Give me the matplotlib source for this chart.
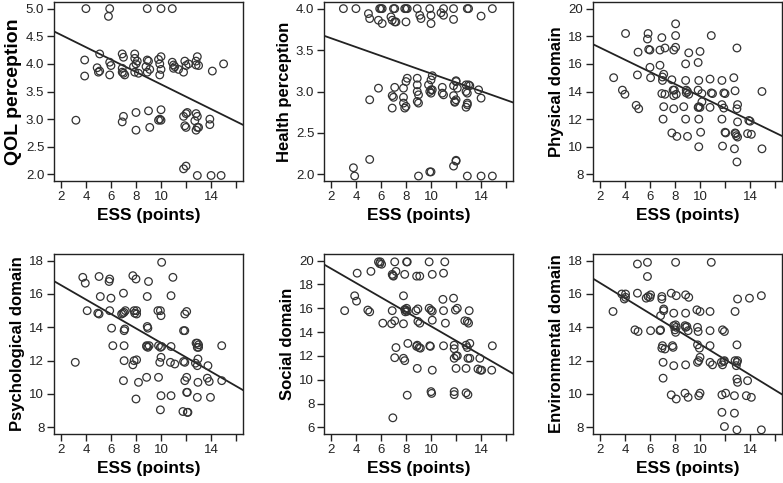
import numpy as np
import matplotlib
matplotlib.use("Agg")
import matplotlib.pyplot as plt

plt.rcParams['font.family'] = ['Liberation Sans', 'DejaVu Sans']

# --- data ---
qol = [(4.0, 5.0), (5.9, 5.0), (5.8, 4.86), (8.9, 5.0), (10.0, 5.0), (10.9, 5.0),
       (3.9, 4.07), (3.9, 3.78), (4.9, 3.93), (5.1, 4.18), (5.1, 3.87), (5.0, 3.85),
       (5.9, 4.03), (6.0, 3.97), (5.9, 3.80), (6.9, 4.18), (7.0, 4.12), (6.9, 3.92),
       (6.9, 3.85), (7.1, 3.80), (7.0, 3.83), (7.9, 4.18), (7.9, 4.10), (8.1, 4.05),
       (8.0, 4.0), (7.8, 3.95), (7.9, 3.85), (8.2, 3.83), (8.9, 4.07), (9.0, 4.05),
       (8.8, 3.95), (9.1, 3.90), (8.9, 3.85), (9.8, 4.08), (10.0, 4.13), (9.9, 4.0),
       (10.0, 3.90), (9.9, 3.80), (10.9, 4.03), (11.0, 3.98), (11.1, 3.95), (11.0, 3.92),
       (11.4, 3.90), (11.9, 4.05), (12.2, 4.0), (12.0, 3.97), (11.8, 3.85), (12.9, 4.13),
       (12.8, 4.05), (12.8, 3.98), (13.0, 3.97), (14.1, 3.87), (15.0, 4.0),
       (3.2, 2.98), (7.0, 3.05), (6.9, 2.95), (8.0, 3.12), (8.0, 2.80), (9.0, 3.15),
       (9.1, 2.85), (9.8, 2.98), (9.9, 3.0), (10.0, 2.98), (10.0, 3.17), (11.8, 3.05),
       (12.0, 3.10), (12.1, 3.12), (11.9, 2.88), (12.0, 2.85), (12.8, 3.10), (12.9, 3.05),
       (12.7, 2.97), (12.9, 2.85), (12.8, 2.80), (13.0, 2.85), (13.9, 3.0), (13.9, 2.90),
       (11.8, 2.10), (12.0, 2.15), (12.9, 1.98), (14.0, 1.98), (14.8, 1.98)]

health = [(3.0, 4.0), (4.0, 4.0), (5.9, 4.0), (6.0, 4.0), (6.1, 4.0), (7.0, 4.0),
          (7.1, 4.0), (7.9, 4.0), (8.0, 4.0), (8.1, 4.0), (8.9, 4.0), (9.9, 4.0),
          (11.0, 4.0), (11.8, 4.0), (12.9, 4.0), (13.0, 4.0), (14.9, 4.0),
          (5.0, 3.94), (5.1, 3.88), (5.8, 3.86), (6.1, 3.82), (6.8, 3.9), (6.9, 3.86),
          (7.1, 3.84), (7.2, 3.84), (8.0, 3.84), (9.1, 3.92), (9.2, 3.88), (10.0, 3.92),
          (10.0, 3.82), (10.8, 3.95), (11.0, 3.92), (11.8, 3.87), (14.0, 3.91),
          (5.1, 2.9), (5.8, 3.04), (6.9, 2.95), (7.0, 2.93), (6.9, 2.8), (7.1, 3.05),
          (7.8, 3.04), (7.8, 2.93), (7.8, 2.86), (7.9, 2.8), (8.0, 2.82), (8.0, 3.12),
          (8.1, 3.16), (8.9, 3.16), (8.9, 3.08), (8.9, 3.0), (9.0, 2.96), (8.9, 2.88),
          (9.0, 2.86), (9.8, 3.08), (9.9, 3.0), (10.0, 3.02), (10.0, 2.98), (10.0, 3.14),
          (10.1, 3.19), (10.1, 3.02), (10.9, 3.05), (10.9, 2.98), (11.0, 2.96), (11.8, 3.07),
          (11.8, 2.95), (11.9, 2.88), (11.9, 2.87), (12.0, 3.13), (12.0, 3.12), (12.0, 2.9),
          (12.1, 3.04), (12.8, 3.08), (12.8, 3.0), (12.9, 2.98), (12.9, 2.86), (12.8, 2.81),
          (12.9, 2.84), (13.0, 3.08), (13.1, 3.07), (13.8, 3.02), (14.0, 2.92),
          (3.8, 2.08), (3.9, 1.98), (5.1, 2.18), (9.0, 1.98), (9.9, 2.03), (10.0, 2.03),
          (11.8, 2.1), (12.0, 2.16), (12.0, 2.17), (12.9, 1.98), (14.0, 1.98), (14.9, 1.98)]

physical = [(3.1, 15.0), (3.8, 14.1), (4.0, 13.8), (4.05, 18.2), (4.9, 13.0), (5.1, 12.75),
            (5.0, 15.2), (5.05, 16.85), (5.85, 18.2), (5.8, 17.8), (5.9, 17.05), (6.0, 17.0),
            (6.0, 15.75), (6.05, 15.0), (6.8, 17.0), (6.95, 17.9), (7.2, 17.15), (6.8, 15.9),
            (7.0, 15.05), (7.0, 14.8), (7.1, 15.25), (6.95, 13.85), (7.2, 13.8), (7.1, 12.9),
            (7.05, 12.0), (7.75, 14.85), (7.85, 14.1), (7.95, 14.1), (8.1, 13.8), (7.9, 13.7),
            (8.05, 18.9), (8.05, 18.05), (8.05, 17.2), (7.9, 17.0), (7.9, 12.75), (7.75, 11.0),
            (8.15, 10.75), (8.85, 16.0), (9.1, 16.8), (8.85, 14.8), (8.9, 14.1), (9.0, 14.0),
            (8.9, 13.9), (9.1, 13.8), (8.7, 12.9), (8.85, 12.0), (9.0, 10.75), (9.85, 16.1),
            (10.0, 16.9), (9.9, 14.8), (9.85, 14.1), (10.15, 13.85), (9.9, 12.9), (10.0, 12.85),
            (9.85, 12.85), (10.15, 13.25), (9.9, 12.0), (10.05, 11.05), (9.9, 10.0),
            (10.8, 14.9), (10.9, 18.05), (10.9, 13.9), (11.0, 13.85), (10.8, 12.85),
            (11.75, 14.8), (11.9, 13.9), (12.0, 13.85), (11.75, 13.05), (11.9, 12.8),
            (11.75, 12.0), (12.0, 11.05), (12.05, 11.0), (11.8, 10.05), (12.7, 15.0),
            (12.8, 14.05), (12.95, 17.15), (13.0, 13.05), (12.95, 12.75), (13.0, 11.8),
            (12.8, 11.0), (12.9, 10.8), (12.85, 10.95), (13.0, 10.7), (12.75, 9.85),
            (12.95, 8.9), (13.9, 11.9), (14.0, 11.85), (13.8, 10.95), (14.1, 10.9),
            (14.95, 14.0), (14.95, 9.85)]

psych = [(3.75, 17.0), (3.95, 16.65), (5.05, 17.05), (5.15, 15.85), (4.1, 15.0), (4.95, 14.85),
         (5.05, 14.8), (5.9, 16.9), (5.85, 16.75), (6.0, 15.75), (5.9, 15.0), (6.05, 13.95),
         (6.15, 12.9), (3.15, 11.9), (7.0, 16.05), (6.85, 14.8), (6.95, 14.85), (7.05, 14.9),
         (7.15, 15.0), (7.05, 13.8), (7.1, 13.9), (7.05, 12.9), (7.05, 12.0), (7.0, 10.8),
         (7.75, 17.1), (8.0, 16.9), (7.85, 15.0), (8.05, 15.0), (7.9, 14.85), (8.05, 14.8),
         (7.85, 12.0), (7.75, 11.75), (8.05, 12.05), (8.2, 10.7), (8.0, 9.7), (9.0, 16.75),
         (8.9, 15.85), (8.9, 14.05), (8.95, 13.95), (8.85, 12.9), (8.95, 12.8), (9.05, 12.9),
         (8.85, 12.85), (8.85, 11.0), (9.75, 15.0), (9.95, 15.0), (10.0, 14.7), (10.05, 17.9),
         (9.8, 12.9), (9.95, 12.8), (10.05, 12.85), (10.0, 12.2), (9.9, 11.9), (10.0, 9.9),
         (9.95, 9.05), (9.8, 11.0), (10.95, 17.0), (10.8, 15.9), (10.8, 12.85), (10.75, 11.9),
         (11.1, 11.8), (10.8, 9.9), (11.8, 13.8), (11.9, 13.8), (11.9, 14.8), (12.05, 14.95),
         (11.8, 11.95), (11.9, 11.9), (12.05, 11.0), (11.9, 10.8), (12.05, 10.1), (12.1, 10.1),
         (11.75, 8.95), (12.1, 8.9), (12.15, 8.9), (12.9, 13.05), (13.0, 12.95), (13.0, 12.8),
         (12.9, 12.8), (12.8, 13.05), (12.95, 12.1), (12.9, 11.7), (12.95, 10.7), (12.9, 9.8),
         (12.75, 11.85), (13.75, 11.7), (13.7, 10.95), (13.85, 10.75), (13.95, 9.8),
         (14.85, 12.9), (14.85, 10.8)]

social = [(3.1, 15.8), (3.9, 17.05), (4.05, 16.6), (4.1, 18.95), (4.95, 15.85), (5.1, 15.7),
          (5.2, 19.1), (5.8, 19.9), (5.95, 19.9), (6.05, 19.7), (5.9, 19.75), (6.15, 14.75),
          (6.9, 18.85), (7.0, 18.7), (6.95, 18.75), (7.1, 19.9), (7.2, 19.1), (6.9, 15.8),
          (7.1, 14.95), (6.85, 14.7), (7.2, 12.7), (7.1, 11.85), (6.95, 6.8), (7.8, 17.05),
          (7.9, 18.85), (8.05, 19.9), (8.1, 19.9), (7.8, 14.7), (7.9, 15.9), (8.0, 15.85),
          (8.1, 15.75), (7.95, 15.7), (8.05, 16.0), (7.8, 11.8), (7.9, 11.6), (8.15, 13.05),
          (8.1, 8.7), (8.85, 18.7), (9.1, 18.7), (8.95, 15.95), (8.8, 15.8), (8.95, 14.9),
          (9.1, 14.75), (8.9, 12.9), (9.05, 12.7), (9.15, 12.65), (8.85, 12.8), (8.9, 10.95),
          (9.85, 19.9), (10.1, 18.85), (9.85, 16.0), (10.0, 15.85), (10.1, 15.75), (10.1, 15.0),
          (9.9, 12.85), (9.95, 12.8), (10.1, 10.8), (10.0, 9.0), (10.05, 8.85), (11.0, 18.95),
          (11.1, 19.9), (10.95, 16.75), (11.0, 15.8), (11.15, 14.75), (11.0, 12.85),
          (11.8, 16.85), (11.85, 12.9), (11.85, 12.6), (11.85, 11.8), (12.0, 12.0), (12.1, 12.0),
          (12.0, 10.95), (11.95, 15.85), (12.1, 16.0), (11.85, 9.0), (11.85, 8.75),
          (12.7, 14.95), (12.9, 14.9), (13.0, 14.75), (13.05, 15.8), (13.1, 13.05),
          (12.8, 12.9), (12.9, 12.7), (12.95, 11.8), (13.1, 11.8), (12.8, 10.95),
          (12.8, 8.9), (12.95, 8.75), (13.9, 11.8), (13.75, 10.9), (13.95, 10.8), (14.05, 10.8),
          (14.85, 10.8), (14.9, 12.85)]

environ = [(3.05, 14.95), (3.75, 16.0), (4.05, 16.0), (3.95, 15.7), (4.05, 15.8), (5.0, 16.05),
           (5.0, 17.8), (5.8, 17.9), (5.8, 17.05), (5.7, 15.75), (6.0, 15.8), (6.05, 15.95),
           (5.85, 15.85), (4.8, 13.85), (5.05, 13.75), (6.05, 13.8), (6.95, 15.85), (6.95, 15.7),
           (7.1, 15.1), (7.1, 15.0), (6.85, 14.7), (6.8, 13.8), (6.85, 13.85), (7.0, 12.9),
           (7.2, 12.7), (6.95, 12.75), (7.05, 11.9), (7.05, 10.95), (7.7, 16.05), (8.05, 17.9),
           (8.1, 15.9), (7.9, 14.85), (7.8, 12.9), (7.85, 12.8), (7.9, 14.1), (8.05, 14.15),
           (8.1, 14.0), (8.0, 13.85), (8.05, 13.7), (7.9, 11.7), (7.7, 9.95), (8.1, 9.7),
           (8.85, 15.95), (9.1, 15.8), (8.85, 14.85), (8.8, 14.1), (8.95, 14.05), (8.85, 14.0),
           (9.05, 13.8), (8.85, 11.75), (8.8, 10.05), (9.05, 9.8), (9.75, 15.05), (10.0, 14.95),
           (9.8, 14.0), (9.85, 13.75), (9.8, 12.95), (9.95, 12.75), (10.0, 12.2), (9.9, 12.0),
           (9.8, 11.9), (9.9, 9.9), (10.0, 10.05), (10.8, 14.95), (10.9, 17.9), (10.8, 13.8),
           (10.8, 12.9), (10.8, 11.9), (11.0, 11.75), (11.8, 13.85), (11.95, 13.75),
           (11.7, 11.9), (11.8, 11.75), (11.9, 11.95), (11.95, 12.0), (11.75, 9.95),
           (12.05, 10.05), (11.75, 8.9), (11.95, 8.05), (12.8, 14.95), (13.0, 15.7),
           (12.95, 12.95), (12.8, 12.0), (12.95, 11.9), (13.0, 12.0), (12.9, 11.7),
           (12.95, 10.9), (13.0, 10.7), (12.75, 9.9), (12.75, 8.85), (12.95, 7.85),
           (13.95, 15.75), (13.8, 10.8), (13.7, 9.9), (14.1, 9.8), (14.9, 15.9), (14.9, 7.85)]

# regression lines (intercept, slope) as drawn in the reference
fits = [(4.75, -0.112), (3.75, -0.0533), (18.06, -0.44),
        (17.40, -0.433), (20.56, -0.607), (17.59, -0.46)]

ylabels = ["QOL perception", "Health perception", "Physical domain",
           "Psychological domain", "Social domain", "Environmental domain"]
yticks = [np.arange(2.0, 5.01, 0.5), np.arange(2.0, 4.01, 0.5), np.arange(8, 21, 2),
          np.arange(8, 19, 2), np.arange(6, 21, 2), np.arange(8, 19, 2)]
yfmt = ["%.1f", "%.1f", "%d", "%d", "%d", "%d"]
xticks = [2, 4, 6, 8, 10, 12, 14, 16]
xticklabels = ["2", "4", "6", "8", "10", "", "14", ""]

panels = [qol, health, physical, psych, social, environ]

W, H = 783, 483
fig = plt.figure(figsize=(W / 100, H / 100), dpi=100)

lefts = [54, 324, 593]
rows = [(2, 181), (254, 434)]
ylab_size = [14, 12, 12, 12, 12, 12]
xlim = (1.45, 16.55)

for i, pts in enumerate(panels):
    r, c = divmod(i, 3)
    top, bot = rows[r]
    ax = fig.add_axes([lefts[c] / W, 1 - bot / H, 189 / W, (bot - top) / H])
    pts = np.array(pts)
    ax.scatter(pts[:, 0], pts[:, 1], s=30, facecolors="none", edgecolors="#333333",
               linewidths=0.9, zorder=3)
    b0, b1 = fits[i]
    xs = np.array(xlim)
    ax.plot(xs, b0 + b1 * xs, color="#222222", lw=1.3, zorder=2)
    yt = yticks[i]
    pad = 0.04 * (yt[-1] - yt[0])
    ax.set_ylim(yt[0] - pad, yt[-1] + pad)
    ax.set_xlim(*xlim)
    ax.set_yticks(yt)
    ax.set_yticklabels([yfmt[i] % v for v in yt])
    ax.set_xticks(xticks)
    ax.set_xticklabels(xticklabels)
    ax.tick_params(direction="out", length=5, width=1.0, labelsize=9.5, pad=2,
                   colors="#222222")
    for sp in ax.spines.values():
        sp.set_linewidth(1.0)
        sp.set_color("#222222")
    ax.set_xlabel("ESS (points)", fontsize=12.5, fontweight="bold", labelpad=4)
    ax.set_ylabel(ylabels[i], fontsize=ylab_size[i], fontweight="bold", labelpad=3)

fig.savefig("out.png", dpi=100)
